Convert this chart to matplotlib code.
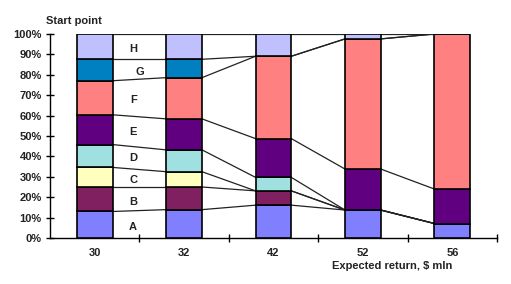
#!/usr/bin/env python3
"""
Stacked 100% bars with series lines: start point shares by expected return.
"""

import numpy as np
import matplotlib
matplotlib.use('Agg')
import matplotlib.pyplot as plt

plt.rcParams['font.family'] = ['Liberation Sans', 'DejaVu Sans']

returns = ['30', '32', '42', '52', '56']
segments = ['A', 'B', 'C', 'D', 'E', 'F', 'G', 'H']

# share (%) of each segment in every bar, bottom to top
seg_a = [13.0, 13.9, 16.1, 13.7, 7.1]
seg_b = [12.0, 11.1, 7.0, 0.0, 0.0]
seg_c = [9.6, 7.5, 0.0, 0.0, 0.0]
seg_d = [11.2, 10.7, 6.6, 0.0, 0.0]
seg_e = [14.6, 15.2, 19.0, 20.1, 16.9]
seg_f = [16.7, 20.2, 40.4, 63.8, 76.0]
seg_g = [10.5, 9.0, 0.0, 0.0, 0.0]
seg_h = [12.4, 12.4, 10.9, 2.4, 0.0]

colors = ['#8080FF', '#802060', '#FFFFC0', '#A0E0E0',
          '#600080', '#FF8080', '#0080C0', '#C0C0FF']

values = np.array([seg_a, seg_b, seg_c, seg_d, seg_e, seg_f, seg_g, seg_h])
tops = np.cumsum(values, axis=0)
x = np.arange(len(returns))
width = 0.4

fig = plt.figure(figsize=(5.11, 2.84), dpi=100)
ax = fig.add_axes([50 / 511, 1 - 238 / 284, 447 / 511, 204 / 284])

bottom = np.zeros(len(returns))
for vals, col in zip(values, colors):
    ax.bar(x, vals, width, bottom=bottom, color=col,
           edgecolor='black', linewidth=1.2, zorder=3)
    bottom = bottom + vals

# series lines between neighbouring bars
for level in tops:
    for i in range(len(returns) - 1):
        ax.plot([x[i] + width / 2, x[i + 1] - width / 2],
                [level[i], level[i + 1]],
                color='#222222', linewidth=0.9, zorder=2)

# segment letters next to the first bar
first_bottoms = tops[:, 0] - values[:, 0]
for name, b, v in zip(segments, first_bottoms, values[:, 0]):
    lx = 0.5 if name == 'G' else 0.43
    ax.text(lx, b + v / 2 - 1.2, name, ha='center', va='center',
            fontsize=8, fontweight='bold', color='#222222')

ax.set_xlim(-0.5, len(returns) - 0.5)
ax.set_ylim(0, 100)
ax.set_yticks(np.arange(0, 101, 10))
ax.set_yticklabels([f'{v}%' for v in range(0, 101, 10)])
ax.set_xticks(x)
ax.set_xticklabels(returns)
ax.set_xticks(np.arange(0.5, len(returns)), minor=True)

for lab in ax.get_xticklabels() + ax.get_yticklabels():
    lab.set_fontweight('bold')
    lab.set_color('#222222')

ax.tick_params(axis='y', direction='inout', length=6, width=1,
               labelsize=8, pad=3)
ax.tick_params(axis='x', which='major', length=0, labelsize=8, pad=7)
ax.tick_params(axis='x', which='minor', direction='inout', length=6, width=1)

ax.spines['top'].set_visible(False)
ax.spines['right'].set_visible(False)
ax.spines['left'].set_linewidth(1)
ax.spines['bottom'].set_linewidth(1)

fig.text(46 / 511, 1 - 21 / 284, 'Start point', ha='left', va='center',
         fontsize=8, fontweight='bold', color='#222222')
fig.text(392 / 511, 1 - 266 / 284, 'Expected return, $ mln', ha='center',
         va='center', fontsize=8, fontweight='bold', color='#222222')

plt.savefig('out.png', dpi=100)
